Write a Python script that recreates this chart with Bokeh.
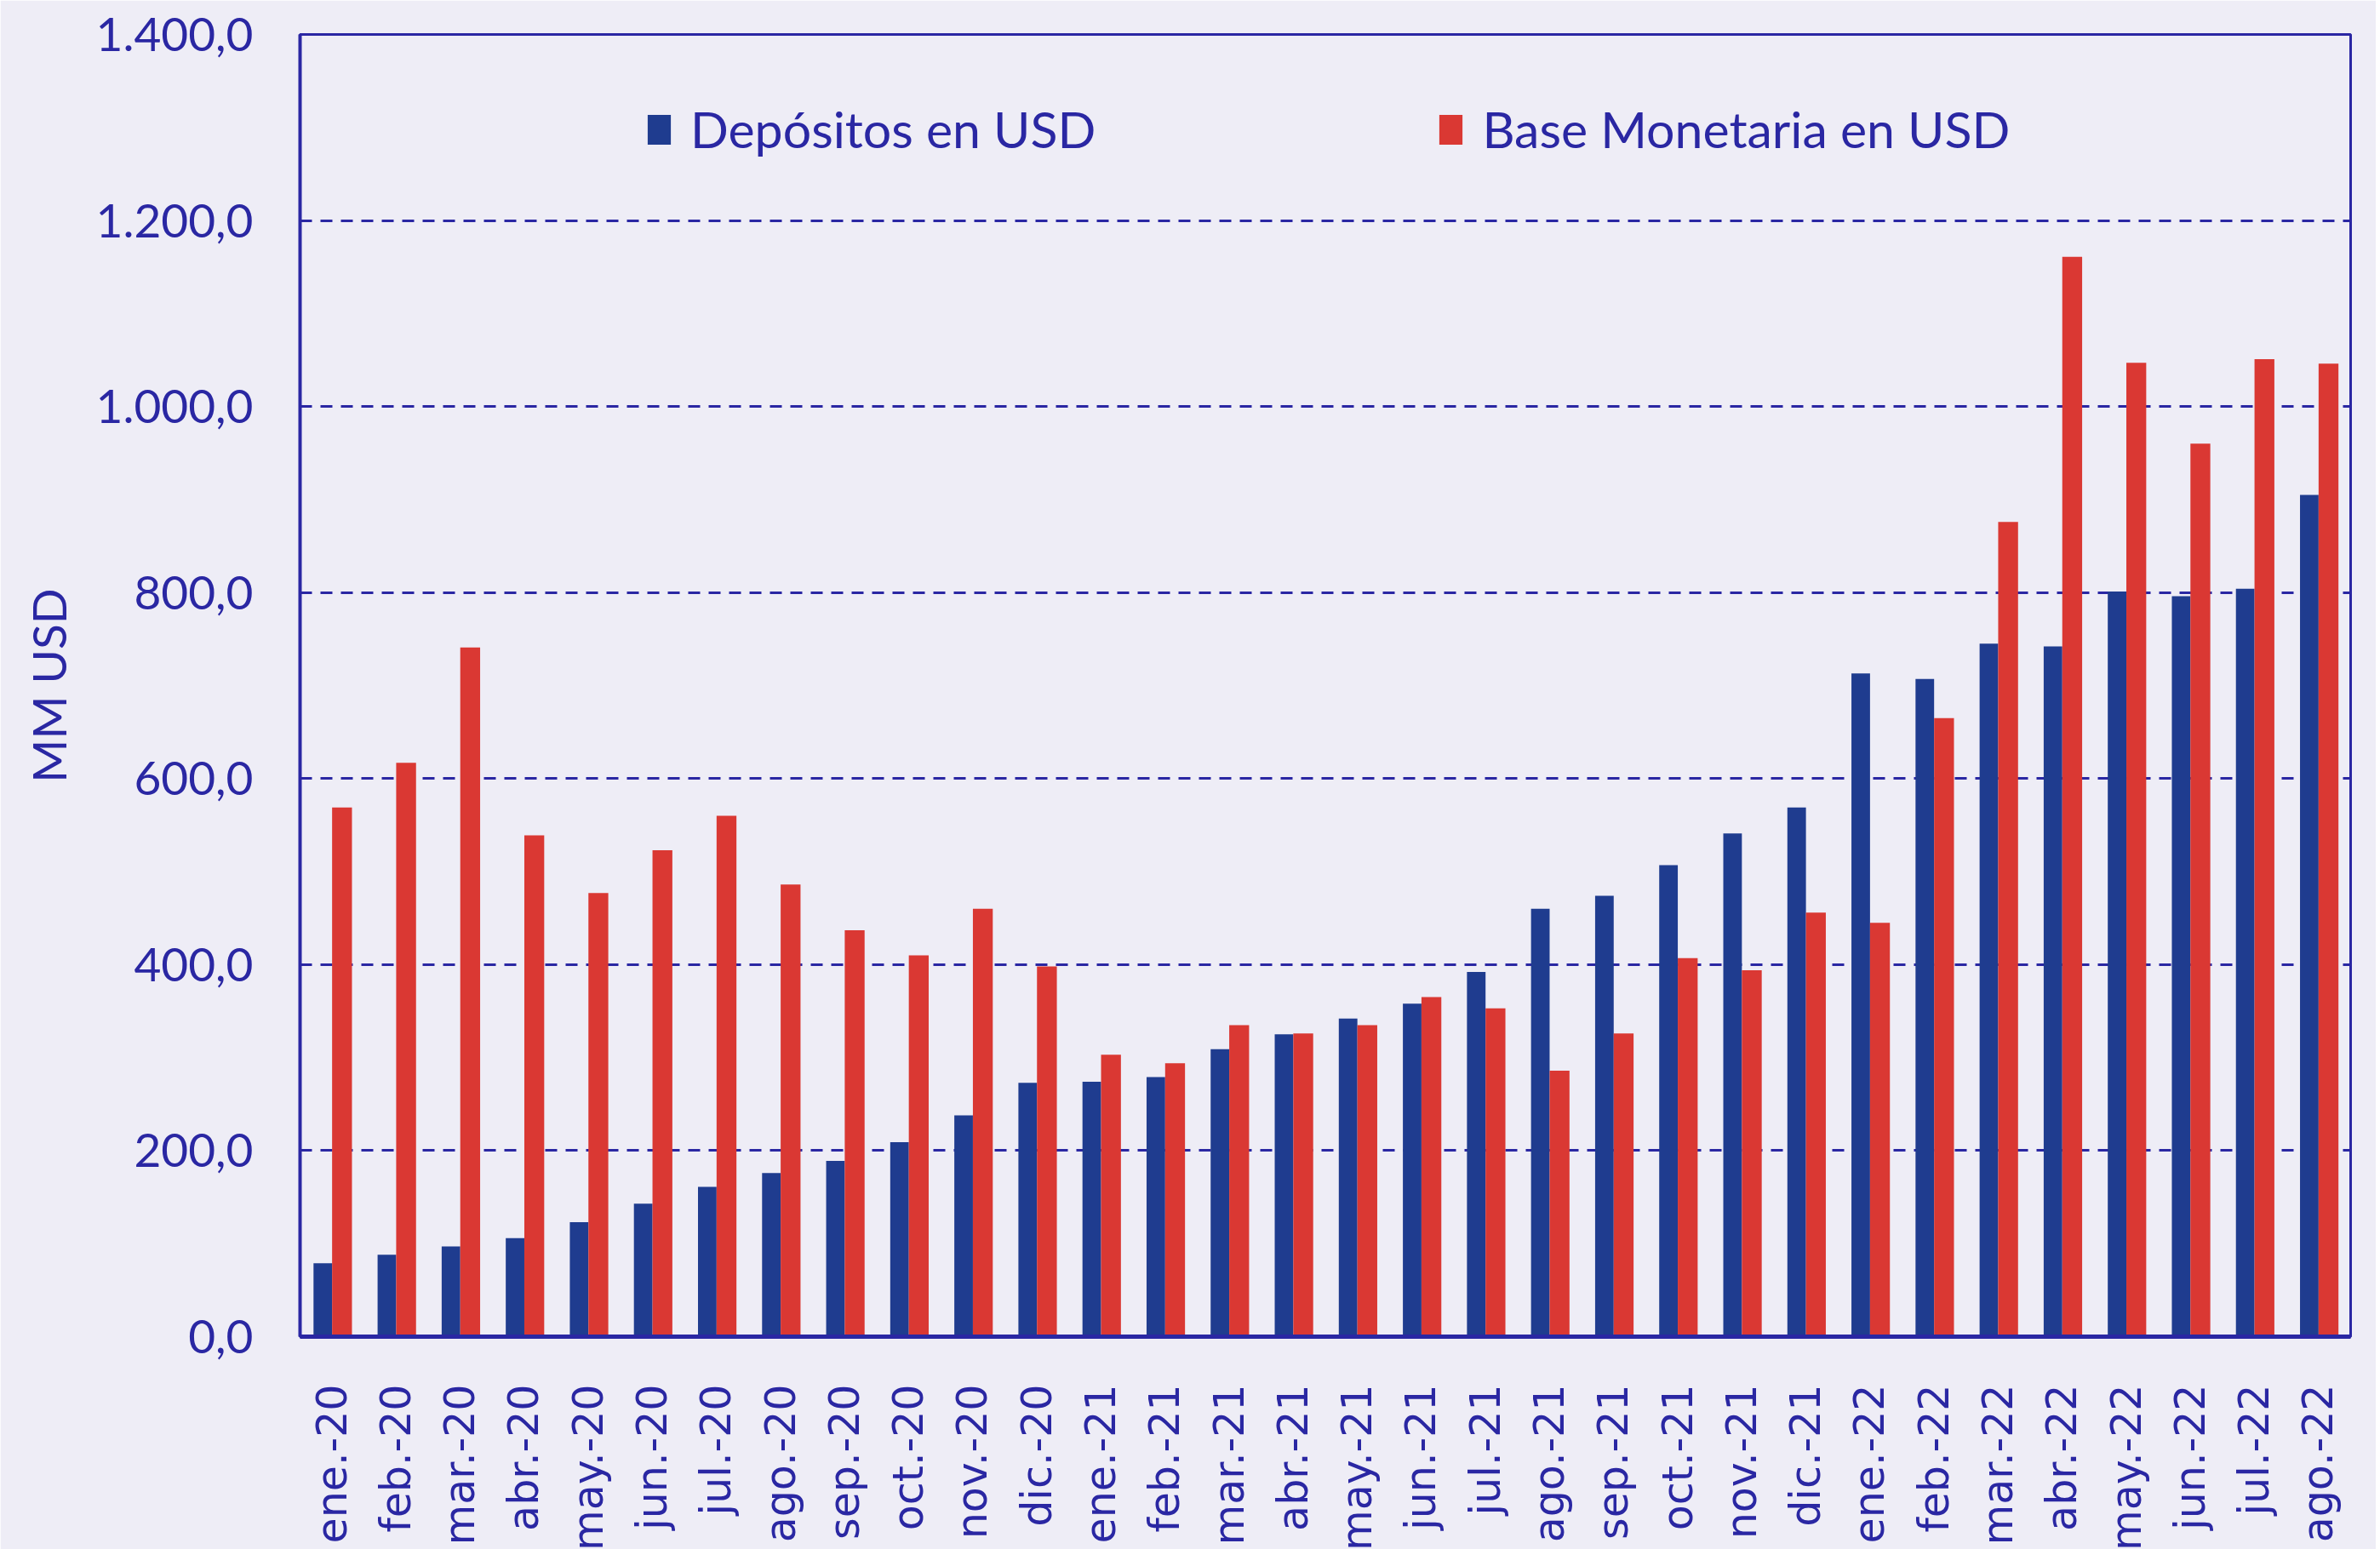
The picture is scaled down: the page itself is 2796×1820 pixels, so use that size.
import math
from bokeh.plotting import figure
from bokeh.models import (ColumnDataSource, FactorRange, FixedTicker, Legend, LegendItem)
from bokeh.transform import dodge
from bokeh.embed import file_html
from bokeh.resources import INLINE

categories = ["ene.-20", "feb.-20", "mar.-20", "abr.-20", "may.-20", "jun.-20", "jul.-20", "ago.-20",
              "sep.-20", "oct.-20", "nov.-20", "dic.-20", "ene.-21", "feb.-21", "mar.-21", "abr.-21",
              "may.-21", "jun.-21", "jul.-21", "ago.-21", "sep.-21", "oct.-21", "nov.-21", "dic.-21",
              "ene.-22", "feb.-22", "mar.-22", "abr.-22", "may.-22", "jun.-22", "jul.-22", "ago.-22"]

depositos = [79, 88, 97, 106, 123, 143, 161, 176, 189, 209, 238, 273, 274, 279, 309, 325,
             342, 358, 392, 460, 474, 507, 541, 569, 713, 707, 745, 742, 801, 796, 804, 905]

base_monetaria = [569, 617, 741, 539, 477, 523, 560, 486, 437, 410, 460, 398, 303, 294, 335, 326,
                  335, 365, 353, 286, 326, 407, 394, 456, 445, 665, 876, 1161, 1047, 960, 1051, 1046]

y_ticks = [0, 200, 400, 600, 800, 1000, 1200, 1400]
y_tick_labels = ["0,0", "200,0", "400,0", "600,0", "800,0", "1.000,0", "1.200,0", "1.400,0"]

series_names = ["Depósitos en USD", "Base Monetaria en USD"]

BG = "#EEEDF6"
TXT = "#2A27A3"
BLUE = "#1F3C8F"
RED = "#DA3833"

source = ColumnDataSource(data=dict(cat=categories, dep=depositos, base=base_monetaria))

p = figure(x_range=FactorRange(*categories, range_padding=0), y_range=(0, 1400),
           frame_width=2409, frame_height=1530,
           min_border_left=352, min_border_right=30, min_border_top=40, min_border_bottom=10,
           output_backend="svg", toolbar_location=None,
           background_fill_color=BG, border_fill_color=BG)

r1 = p.vbar(x=dodge("cat", -0.145, range=p.x_range), top="dep", width=0.29, source=source,
            fill_color=BLUE, line_color=None)
r2 = p.vbar(x=dodge("cat", 0.155, range=p.x_range), top="base", width=0.31, source=source,
            fill_color=RED, line_color=None)

p.outline_line_color = TXT
p.outline_line_width = 3

p.xgrid.grid_line_color = None
p.ygrid.grid_line_color = TXT
p.ygrid.grid_line_width = 3
p.ygrid.grid_line_dash = "14 10"
p.ygrid.level = "underlay"

p.yaxis.ticker = FixedTicker(ticks=y_ticks)
p.yaxis.major_label_overrides = {t: l for t, l in zip(y_ticks, y_tick_labels)}
p.yaxis.major_label_text_font = "Lato"
p.yaxis.major_label_text_font_size = "55px"
p.yaxis.major_label_text_color = TXT
p.yaxis.major_label_standoff = 55
p.yaxis.major_tick_in = 10
p.yaxis.major_tick_out = 0
p.yaxis.major_tick_line_color = TXT
p.yaxis.major_tick_line_width = 3
p.yaxis.minor_tick_line_color = None
p.yaxis.axis_line_color = TXT
p.yaxis.axis_line_width = 4
p.yaxis.axis_label = "MM USD"
p.yaxis.axis_label_text_font = "Lato"
p.yaxis.axis_label_text_font_size = "55px"
p.yaxis.axis_label_text_font_style = "normal"
p.yaxis.axis_label_text_color = TXT
p.yaxis.axis_label_standoff = 20

p.xaxis.major_label_orientation = math.pi / 2
p.xaxis.major_label_text_font = "DejaVu Sans"
p.xaxis.major_label_text_font_size = "49px"
p.xaxis.major_label_text_color = TXT
p.xaxis.major_label_standoff = 50
p.xaxis.major_tick_line_color = None
p.xaxis.minor_tick_line_color = None
p.xaxis.axis_line_color = TXT
p.xaxis.axis_line_width = 5

legend = Legend(items=[LegendItem(label=series_names[0], renderers=[r1]),
                       LegendItem(label=series_names[1], renderers=[r2])],
                orientation="horizontal", location=(405, 1383),
                background_fill_alpha=0, border_line_alpha=0,
                glyph_width=34, glyph_height=44, label_standoff=20, spacing=400,
                padding=0, margin=0,
                label_text_font="Lato", label_text_font_size="59px", label_text_color=TXT)
p.add_layout(legend)

open("out.html", "w").write(file_html(p, INLINE))
